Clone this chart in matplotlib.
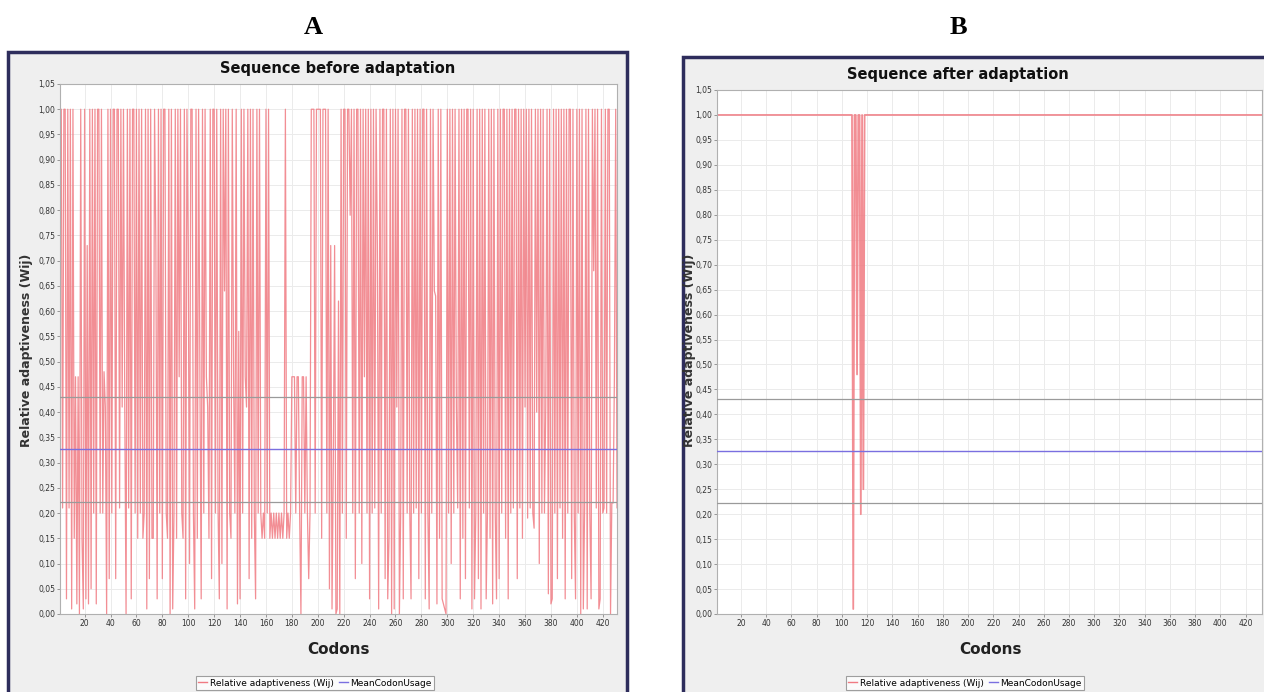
import numpy as np
import matplotlib.pyplot as plt
from matplotlib.patches import Rectangle
from matplotlib.ticker import FuncFormatter, MultipleLocator
from matplotlib.lines import Line2D

# --- Data ---

# relative adaptiveness per codon, sequence before adaptation
wij_before = [
    1.0, 1.0, 0.21, 1.0, 1.0, 0.03, 1.0, 0.21, 1.0, 0.01, 1.0, 0.15, 0.47, 0.02, 0.47, 0.0, 1.0, 0.15, 0.01, 1.0,      # 1-20
    0.03, 0.73, 0.02, 1.0, 0.05, 1.0, 0.2, 1.0, 0.02, 1.0, 1.0, 0.2, 1.0, 0.2, 0.48, 0.41, 0.0, 1.0, 0.07, 1.0,        # 21-40
    0.2, 1.0, 1.0, 0.07, 1.0, 1.0, 0.21, 1.0, 0.41, 1.0, 0.41, 0.0, 1.0, 0.21, 1.0, 0.03, 1.0, 1.0, 0.2, 1.0,          # 41-60
    0.15, 1.0, 0.2, 1.0, 0.15, 0.2, 1.0, 0.01, 1.0, 0.07, 1.0, 0.15, 0.15, 1.0, 0.73, 0.03, 1.0, 0.2, 1.0, 0.07,       # 61-80
    1.0, 1.0, 0.2, 0.15, 1.0, 0.0, 1.0, 0.01, 0.2, 1.0, 0.15, 1.0, 0.47, 1.0, 0.2, 0.15, 1.0, 0.03, 1.0, 0.73,         # 81-100
    0.1, 1.0, 1.0, 0.2, 0.01, 1.0, 0.15, 1.0, 0.47, 0.03, 1.0, 0.2, 1.0, 0.47, 0.41, 0.15, 1.0, 0.07, 1.0, 1.0,        # 101-120
    0.2, 1.0, 0.21, 0.03, 1.0, 0.1, 1.0, 0.64, 1.0, 0.01, 1.0, 0.2, 0.15, 1.0, 0.47, 0.2, 1.0, 0.02, 0.56, 0.03,       # 121-140
    1.0, 0.2, 1.0, 0.47, 0.41, 1.0, 0.07, 1.0, 0.15, 1.0, 0.2, 0.03, 1.0, 0.2, 1.0, 0.2, 0.15, 0.2, 0.15, 1.0,         # 141-160
    0.2, 1.0, 0.15, 0.2, 0.15, 0.2, 0.15, 0.2, 0.15, 0.2, 0.15, 0.2, 0.15, 0.2, 1.0, 0.15, 0.2, 0.15, 0.2, 0.47,       # 161-180
    0.47, 0.47, 0.2, 0.47, 0.47, 0.2, 0.0, 0.47, 0.47, 0.2, 0.47, 0.2, 0.07, 0.2, 1.0, 1.0, 1.0, 0.2, 1.0, 1.0,        # 181-200
    1.0, 1.0, 0.15, 1.0, 1.0, 1.0, 0.2, 1.0, 0.05, 0.73, 0.01, 0.3, 0.73, 0.0, 0.01, 0.62, 0.0, 1.0, 0.2, 1.0,         # 201-220
    1.0, 0.15, 1.0, 1.0, 0.79, 1.0, 0.2, 1.0, 0.07, 1.0, 1.0, 0.2, 1.0, 0.1, 1.0, 0.47, 1.0, 0.2, 1.0, 0.03,          # 221-240
    1.0, 0.2, 1.0, 0.21, 1.0, 0.73, 0.01, 1.0, 0.2, 1.0, 1.0, 0.07, 1.0, 0.03, 0.15, 1.0, 0.0, 1.0, 0.01, 1.0,         # 241-260
    0.41, 1.0, 0.0, 0.2, 1.0, 0.03, 1.0, 1.0, 0.2, 1.0, 0.21, 0.03, 1.0, 0.2, 1.0, 0.21, 1.0, 0.07, 1.0, 0.2,          # 261-280
    1.0, 1.0, 0.03, 1.0, 0.2, 0.01, 1.0, 0.2, 1.0, 0.64, 0.63, 0.02, 1.0, 0.15, 1.0, 0.03, 0.02, 0.01, 0.0, 1.0,       # 281-300
    0.2, 1.0, 0.1, 1.0, 0.2, 1.0, 0.41, 0.21, 1.0, 0.03, 1.0, 0.15, 1.0, 0.07, 1.0, 1.0, 0.21, 1.0, 0.01, 1.0,         # 301-320
    0.03, 0.2, 1.0, 0.07, 1.0, 0.01, 1.0, 0.2, 1.0, 0.03, 0.2, 1.0, 0.15, 1.0, 0.02, 1.0, 0.2, 0.03, 1.0, 0.07,        # 321-340
    1.0, 0.2, 1.0, 1.0, 0.15, 1.0, 0.03, 1.0, 0.2, 1.0, 0.21, 1.0, 1.0, 0.07, 1.0, 0.21, 1.0, 0.15, 1.0, 0.41,         # 341-360
    1.0, 0.19, 1.0, 0.21, 1.0, 0.2, 0.17, 1.0, 0.4, 1.0, 0.1, 1.0, 0.2, 1.0, 0.2, 0.41, 1.0, 0.04, 1.0, 0.02,          # 361-380
    0.03, 1.0, 0.2, 1.0, 0.07, 1.0, 0.21, 1.0, 0.15, 1.0, 0.03, 1.0, 0.2, 1.0, 1.0, 0.07, 1.0, 0.2, 0.03, 1.0,         # 381-400
    0.2, 1.0, 0.0, 1.0, 0.01, 0.21, 1.0, 0.01, 1.0, 0.2, 0.03, 1.0, 0.68, 1.0, 0.21, 1.0, 0.01, 0.03, 1.0, 0.2,        # 401-420
    0.21, 1.0, 0.2, 1.0, 1.0, 0.0, 0.22, 0.22, 0.47, 1.0, 0.21, 1.0,                                                 # 421-432
]

# sequence after adaptation: 1.0 everywhere except a few codons
n_codons_after = 433
after_dip_codons = [109, 112, 115, 117]
after_dip_values = [0.01, 0.48, 0.2, 0.25]

mean_codon_usage = 0.327
upper_ref = 0.43
lower_ref = 0.222

panel_titles = ['Sequence before adaptation', 'Sequence after adaptation']
panel_letters = ['A', 'B']

# --- Layout helpers (pixel boxes on a 1264x692 canvas) ---

W, H = 1264, 692


def px_box(x0, y0, x1, y1):
    return [x0 / W, 1 - y1 / H, (x1 - x0) / W, (y1 - y0) / H]


def comma_fmt(v, pos):
    return f'{v:.2f}'.replace('.', ',')


RED = '#f07a82'
BLUE = '#7a6fe0'
GREY = '#9a9a9a'


def style_axes(ax, xmax):
    ax.set_zorder(2)
    ax.set_facecolor('white')
    ax.set_ylim(0, 1.05)
    ax.set_xlim(1, xmax)
    ax.yaxis.set_major_locator(MultipleLocator(0.05))
    ax.yaxis.set_major_formatter(FuncFormatter(comma_fmt))
    ax.set_xticks(range(20, 421, 20))
    ax.grid(True, color='#ebebeb', linewidth=0.7)
    ax.set_axisbelow(True)
    for s in ax.spines.values():
        s.set_color('#b0b0b0')
        s.set_linewidth(0.8)
    ax.tick_params(length=2, width=0.6, color='#888888', labelsize=5.5, labelcolor='#333333', pad=1.5)
    ax.axhline(upper_ref, color=GREY, linewidth=0.9, zorder=3)
    ax.axhline(lower_ref, color=GREY, linewidth=0.9, zorder=3)
    ax.axhline(mean_codon_usage, color=BLUE, linewidth=1.0, zorder=4)


fig = plt.figure(figsize=(12.64, 6.92), dpi=100)
fig.patch.set_facecolor('white')

# background layer holding the outer panel frames
bg = fig.add_axes([0, 0, 1, 1], zorder=0)
bg.set_xlim(0, W)
bg.set_ylim(H, 0)
bg.axis('off')
for (x0, y0, x1, y1) in [(8, 52, 627, 697), (683, 57, 1268, 697)]:
    bg.add_patch(Rectangle((x0, y0), x1 - x0, y1 - y0, facecolor='#efefef',
                           edgecolor='#2e2d5c', linewidth=2.5))

# --- Panel A ---
axA = fig.add_axes(px_box(60, 84, 617, 614))
codons_a = np.arange(1, len(wij_before) + 1)
axA.plot(codons_a, wij_before, color=RED, linewidth=0.9, alpha=0.85, zorder=2)
style_axes(axA, 431)

# --- Panel B ---
axB = fig.add_axes(px_box(717, 90, 1262, 614))
wij_after = np.ones(n_codons_after)
wij_after[np.array(after_dip_codons) - 1] = after_dip_values
codons_b = np.arange(1, n_codons_after + 1)
axB.plot(codons_b, wij_after, color=RED, linewidth=1.3, alpha=0.85, zorder=2)
style_axes(axB, 433)

# --- Texts ---
for cx, ty, lx, title, letter in [(338, 68, 313, panel_titles[0], panel_letters[0]),
                                  (958, 74, 958, panel_titles[1], panel_letters[1])]:
    fig.text(cx / W, 1 - ty / H, title, ha='center', va='center', fontsize=10.5,
             fontweight='bold', color='#111111', zorder=5)
    fig.text(lx / W, 1 - 28 / H, letter, ha='center', va='center', fontsize=19,
             fontweight='bold', family=['Liberation Serif', 'DejaVu Serif'])

for x, yc in [(27, 350), (690, 350)]:
    fig.text(x / W, 1 - yc / H, 'Relative adaptiveness (Wij)', rotation=90, ha='center',
             va='center', fontsize=9, fontweight='bold', color='#333333', zorder=5)

for cx in [338, 990]:
    fig.text(cx / W, 1 - 650 / H, 'Codons', ha='center', va='center', fontsize=11,
             fontweight='bold', color='#222222', zorder=5)

handles = [Line2D([], [], color=RED, linewidth=1), Line2D([], [], color=BLUE, linewidth=1)]
labels = ['Relative adaptiveness (Wij)', 'MeanCodonUsage']
for cx in [315, 965]:
    leg = fig.legend(handles, labels, loc='center', bbox_to_anchor=(cx / W, 1 - 683 / H),
                     ncol=2, fontsize=6.5, frameon=True, fancybox=False, handlelength=1.0,
                     handletextpad=0.3, columnspacing=0.5, borderpad=0.3)
    leg.set_zorder(5)
    leg.get_frame().set_edgecolor('#888888')
    leg.get_frame().set_linewidth(0.8)

fig.savefig('out.png', dpi=100, facecolor='white')
